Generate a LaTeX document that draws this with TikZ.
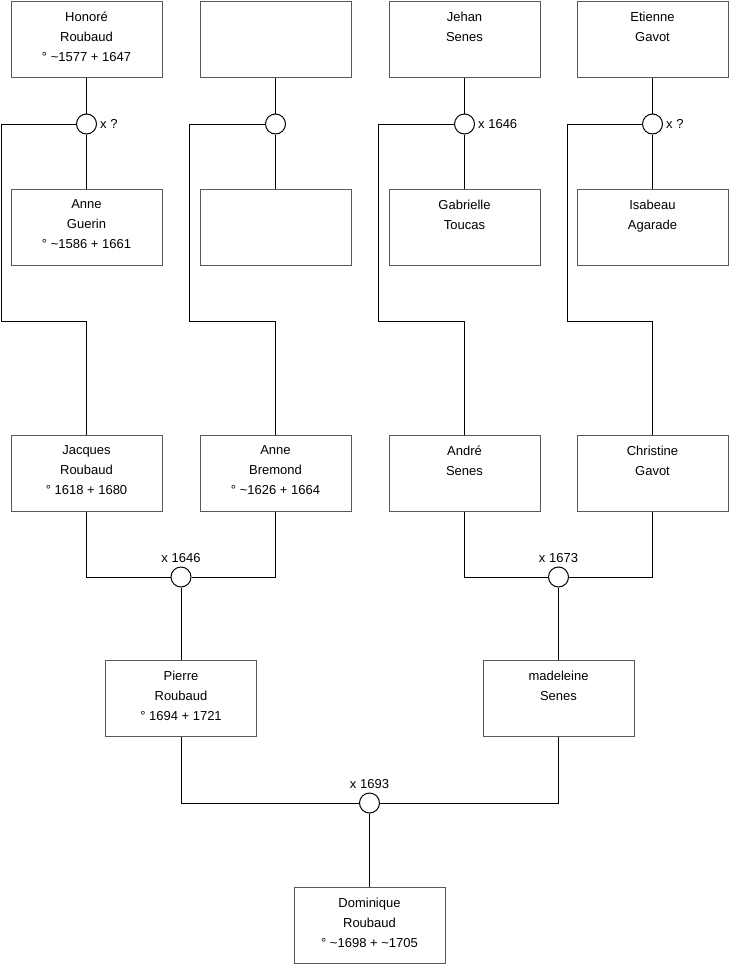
\documentclass[tikz,border=0pt]{standalone}
\usepackage{fontspec}
\setmainfont{Liberation Sans}
\usetikzlibrary{positioning}

\begin{document}
\begin{tikzpicture}
    [x=1pt, y=-1pt,
    person/.style={draw=black!65, line width=1pt, minimum width=151pt, minimum height=76pt,
        anchor=north, align=center, inner sep=0pt, font=\fontsize{13}{20}\selectfont,
        execute at begin node=\strut, execute at end node=\strut},
    wed/.style={draw, circle, fill=white, minimum size=20pt, inner sep=0pt, line width=1pt},
    link/.style={line width=1pt},
    date/.style={inner sep=0pt, font=\fontsize{13}{15}\selectfont}]
    \useasboundingbox (0,0) rectangle (740,975);
    \coordinate (turn) at (0,321);

        %% Grand-parents
    \node[person] (H1) at (86.5,1) {Honoré\\Roubaud\\° \textasciitilde1577 + 1647};
    \node[person] (H2) at (275.5,1) {};
    \node[person] (H3) at (464.5,1) {Jehan\\Senes\\};
    \node[person] (H4) at (652.5,1) {Etienne\\Gavot\\};

    \node[wed] (W1) at (86.5,124) {};
    \node[wed] (W2) at (275.5,124) {};
    \node[wed] (W3) at (464.5,124) {};
    \node[wed] (W4) at (652.5,124) {};
    \node[date, right=3pt of W1] (d1) {x ?};
    \node[date, right=3pt of W3] (d3) {x 1646};
    \node[date, right=3pt of W4] (d4) {x ?};

    \node[person] (S1) at (86.5,189) {Anne\\Guerin\\° \textasciitilde1586 + 1661};
    \node[person] (S2) at (275.5,189) {};
    \node[person] (S3) at (464.5,189) {Gabrielle\\Toucas\\};
    \node[person] (S4) at (652.5,189) {Isabeau\\Agarade\\};

        %% Parents
    \node[person] (J) at (86.5,435) {Jacques\\Roubaud\\° 1618 + 1680};
    \node[person] (B) at (275.5,435) {Anne\\Bremond\\° \textasciitilde1626 + 1664};
    \node[person] (A) at (464.5,435) {André\\Senes\\};
    \node[person] (C) at (652.5,435) {Christine\\Gavot\\};

    \node[wed] (W5) at (181,577) {};
    \node[wed] (W6) at (558.5,577) {};
    \node[date, above=4pt of W5] (d5) {x 1646};
    \node[date, above=4pt of W6] (d6) {x 1673};

    \node[person] (P) at (181,660) {Pierre\\Roubaud\\° 1694 + 1721};
    \node[person] (M) at (558.5,660) {madeleine\\Senes\\};

    \node[wed] (W7) at (369.5,803) {};
    \node[date, above=4pt of W7] (d7) {x 1693};

    \node[person] (D) at (369.5,887) {Dominique\\Roubaud\\° \textasciitilde1698 + \textasciitilde1705};

        %% Links
    \draw[link] (H1) -- (W1) -- (S1);
    \draw[link] (H2) -- (W2) -- (S2);
    \draw[link] (H3) -- (W3) -- (S3);
    \draw[link] (H4) -- (W4) -- (S4);
    \draw[link] (W1.west) -- ++(-74.5,0) |- (turn -| J) -- (J);
    \draw[link] (W2.west) -- ++(-75.5,0) |- (turn -| B) -- (B);
    \draw[link] (W3.west) -- ++(-75.5,0) |- (turn -| A) -- (A);
    \draw[link] (W4.west) -- ++(-74.5,0) |- (turn -| C) -- (C);

    \draw[link] (J) |- (W5) -| (B);
    \draw[link] (A) |- (W6) -| (C);
    \draw[link] (W5) -- (P);
    \draw[link] (W6) -- (M);
    \draw[link] (P) |- (W7) -| (M);
    \draw[link] (W7) -- (D);
\end{tikzpicture}
\end{document}
